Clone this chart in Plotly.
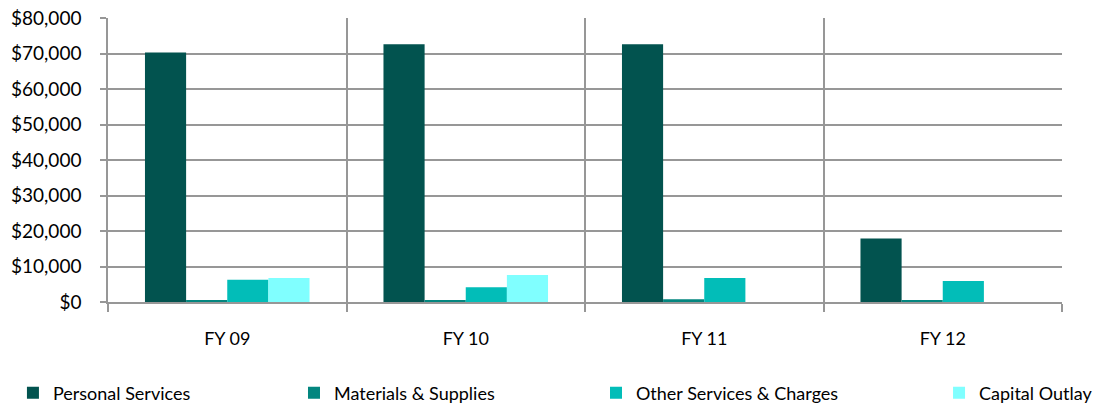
import plotly.graph_objects as go

# Expenditures by category and fiscal year
years = ["FY 09", "FY 10", "FY 11", "FY 12"]
personal_services = [70300, 72600, 72600, 17900]
materials_supplies = [400, 400, 760, 300]
other_services_charges = [6300, 4150, 6760, 5900]
capital_outlay = [6760, 7600, 0, 0]

series = [
    ("Personal Services", personal_services, "#02534f", "legend", 0.0118),
    ("Materials & Supplies", materials_supplies, "#03867f", "legend2", 0.2680),
    ("Other Services & Charges", other_services_charges, "#02bdb8", "legend3", 0.5433),
    ("Capital Outlay", capital_outlay, "#80ffff", "legend4", 0.8560),
]

font_family = "Lato, 'Open Sans', sans-serif"

fig = go.Figure()
for name, values, color, legend_id, _ in series:
    fig.add_trace(go.Bar(
        name=name, x=years, y=values,
        marker=dict(color=color, line=dict(width=0)),
        legend=legend_id, showlegend=True,
        hoverinfo="skip",
    ))

grid_color = "#979797"

# one single-entry legend per series, spread along the bottom of the figure
legend_layout = {}
for _, _, _, legend_id, lx in series:
    legend_layout[legend_id] = dict(
        orientation="h", xref="container", yref="container",
        x=lx, xanchor="left", y=0.034, yanchor="middle",
        font=dict(family=font_family, size=18, color="#000000"),
        bgcolor="rgba(0,0,0,0)", itemwidth=30,
    )

fig.update_layout(
    width=1097, height=407,
    showlegend=True,
    margin=dict(l=108, r=35, t=18, b=105, autoexpand=False),
    paper_bgcolor="white", plot_bgcolor="white",
    barmode="group", bargap=0.31, bargroupgap=0,
    font=dict(family=font_family, size=19, color="#000000"),
    xaxis=dict(
        type="category", tickson="boundaries", automargin=False,
        showgrid=True, gridcolor=grid_color, gridwidth=1.5,
        ticks="outside", ticklen=8, tickwidth=1.5, tickcolor=grid_color,
        showline=True, linecolor=grid_color, linewidth=1.5,
        ticklabelstandoff=20,
        tickfont=dict(family=font_family, size=18),
    ),
    yaxis=dict(
        range=[0, 80000], dtick=10000, automargin=False,
        tickprefix="$", tickformat=",d",
        showgrid=True, gridcolor=grid_color, gridwidth=1.5,
        ticks="outside", ticklen=6, tickwidth=1.5, tickcolor=grid_color,
        showline=True, linecolor=grid_color, linewidth=1.5,
        zeroline=False, ticklabelstandoff=15,
        tickfont=dict(family=font_family, size=19),
    ),
    **legend_layout,
)

fig.write_html("out.html")
